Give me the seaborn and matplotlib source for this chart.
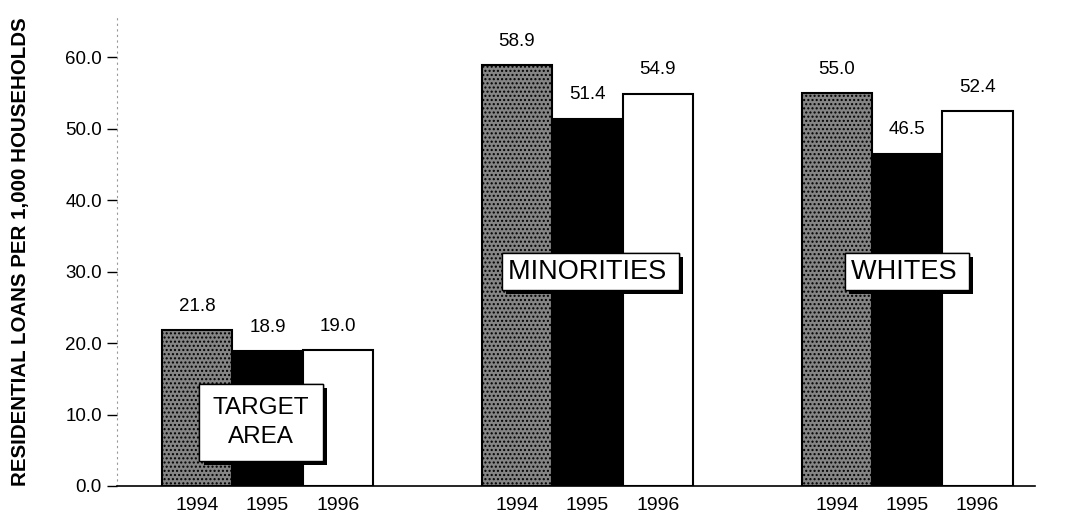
import matplotlib
matplotlib.use("Agg")
import matplotlib.pyplot as plt
import matplotlib.patheffects as pe
import seaborn as sns
import pandas as pd

groups = ["TARGET AREA", "MINORITIES", "WHITES"]
years = ["1994", "1995", "1996"]
values = {
    "1994": [21.8, 58.9, 55.0],
    "1995": [18.9, 51.4, 46.5],
    "1996": [19.0, 54.9, 52.4],
}
yticks = [0, 10, 20, 30, 40, 50, 60]

rows = [(g, y, values[y][i]) for y in years for i, g in enumerate(groups)]
df = pd.DataFrame(rows, columns=["group", "year", "loans"])

sns.set_theme(style="white")
plt.rcParams["font.family"] = ["Liberation Sans", "DejaVu Sans"]
plt.rcParams.update({"text.color": "black", "axes.labelcolor": "black",
                     "xtick.color": "black", "ytick.color": "black"})

fig = plt.figure(figsize=(10.65, 5.19), dpi=100)
ax = fig.add_axes([0.110, 0.0636, 0.862, 0.909])

palette = {"1994": "#858585", "1995": "#000000", "1996": "#ffffff"}
sns.barplot(data=df, x="group", y="loans", hue="year", order=groups,
            hue_order=years, palette=palette, width=0.66, gap=0,
            edgecolor="black", linewidth=1.5, legend=False, ax=ax)

# grainy texture on the 1994 bars
for bar in ax.containers[0]:
    bar.set_hatch("....")

ax.set_ylim(0, 66)
ax.set_xlim(-0.47, 2.40)
ax.set_yticks(yticks)
ax.set_yticklabels([f"{t:.1f}" for t in yticks], fontsize=13.5)
ax.tick_params(axis="y", left=True, length=7, width=1, color="black", pad=4)
ax.set_xticks([])
ax.set_xlabel("")
ax.set_ylabel("RESIDENTIAL LOANS PER 1,000 HOUSEHOLDS", fontsize=14.8,
              fontweight="bold")
ax.yaxis.set_label_coords(-0.095, 0.497)

for side in ["top", "right"]:
    ax.spines[side].set_visible(False)
ax.spines["left"].set_linestyle((0, (1, 4)))
ax.spines["left"].set_color("#999999")
ax.spines["left"].set_linewidth(0.8)
ax.spines["bottom"].set_color("black")
ax.spines["bottom"].set_linewidth(1.2)

# value labels above bars and year labels below
for yr, cont in zip(years, ax.containers):
    for bar, val in zip(cont, values[yr]):
        cx = bar.get_x() + bar.get_width() / 2
        ax.annotate(f"{val:.1f}", (cx, val), xytext=(0, 11),
                    textcoords="offset points", ha="center", va="bottom",
                    fontsize=13.5)
        ax.annotate(yr, (cx, 0), xytext=(0, -8), textcoords="offset points",
                    ha="center", va="top", fontsize=14,
                    annotation_clip=False)

# group name boxes with drop shadows
label_specs = [
    ("TARGET\nAREA", -0.02, 8.9, 17.5, 1.4, 0.55),
    ("MINORITIES ", 1.01, 30.0, 19.5, 1.2, 0.2),
    ("WHITES ", 2.0, 30.0, 19.5, 1.2, 0.2),
]
for text, x, y, size, spacing, pad in label_specs:
    t = ax.text(x, y, text, ha="center", va="center", fontsize=size,
                linespacing=spacing,
                bbox=dict(boxstyle=f"square,pad={pad}", fc="white",
                          ec="black", lw=1.0))
    t.get_bbox_patch().set_path_effects([
        pe.withSimplePatchShadow(offset=(3, -3), shadow_rgbFace="black",
                                 alpha=1.0),
        pe.Normal(),
    ])

fig.savefig("out.png", dpi=100)
